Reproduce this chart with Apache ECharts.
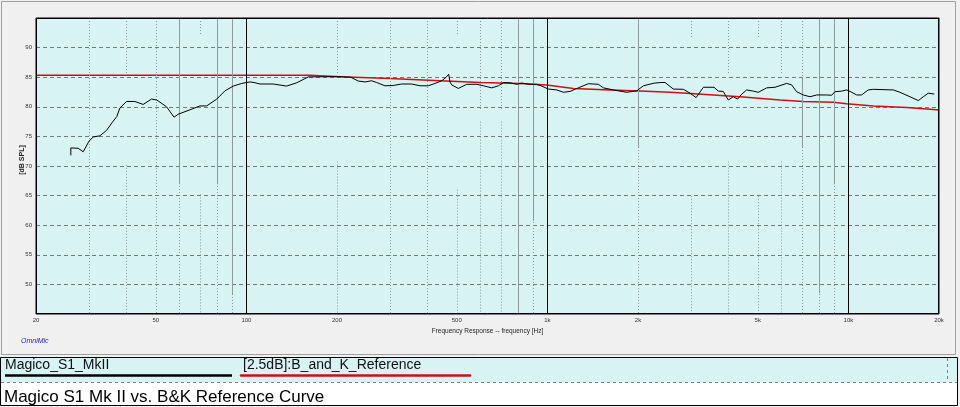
<!DOCTYPE html>
<html><head><meta charset="utf-8">
<script src="https://cdn.jsdelivr.net/npm/echarts@6/dist/echarts.min.js"></script>
<style>html,body{margin:0;padding:0;background:#f0f0f0}#c{width:960px;height:407px}</style>
</head><body><div id="c"></div><script>
// Magico S1 MkII measured response (Hz, dB SPL)
const magicoFreq = [26.1,26.1,27.6,28.7,30,31.0,32.6,34.3,35.7,37.1,38.0,40.0,42.6,45.4,48.4,50.4,54.3,57.5,59.4,65.0,70.1,73.8,79.7,84.9,90.5,96.5,102.8,106,111,122.8,136.1,146.9,160.6,204.6,222,235.5,248,260.7,271,288.5,307.6,328,354,377.5,402,423.5,445.6,460,470,474.6,481,505.8,539.5,582.5,612.6,653.5,687.5,714,751.6,791,821.7,875.4,921,957,1007,1074,1130,1189,1267,1368,1477,1535,1656,1834,1981,2084,2264,2382,2461,2620,2830,2978,3119,3298,3577,3697,3838,3990,4145,4285,4395,4592,4830,5022,5355,5704,6238,6480,6730,7080,7455,7848,8472,8800,9020,9500,9870,10260,10650,11060,11640,12100,14100,14830,16020,17070,17740,18420,19290];
const magicoDb = [71.8,73.05,73.0,72.4,74.2,74.9,75.1,76.0,77.25,78.35,79.8,80.9,80.9,80.4,81.3,81.15,80.0,78.25,78.75,79.5,80.15,80.15,81.3,82.7,83.5,83.95,84.2,84.1,83.85,83.85,83.5,84.05,85.05,85.1,85.0,84.35,84.2,84.4,84.1,83.55,83.6,83.85,83.85,83.55,83.55,83.95,84.4,84.95,85.5,84.2,83.7,83.1,83.8,83.8,83.55,83.2,83.55,84.1,84.05,83.8,84.0,83.8,83.8,83.5,83.0,82.85,82.45,82.6,83.2,83.9,83.8,83.2,82.85,82.45,82.7,83.55,84.0,84.1,84.1,83.0,82.95,82.3,81.55,83.3,83.3,82.65,82.6,81.15,81.7,81.3,82.0,82.85,82.65,82.45,83.2,83.3,83.95,83.7,82.55,82.0,81.7,82.0,82.0,81.95,82.55,82.65,82.85,82.45,82.0,82.0,82.85,82.95,82.85,82.45,81.7,81.05,81.7,82.3,82.15];
// B&K reference curve
const refFreq = [20,162.6,204.6,300,440,597,810,994,1220,1614,2032,2554,2900,4365,5930,7080,8910,9870,12100,15620,19640,20000];
const refDb = [85.35,85.35,85.07,84.8,84.4,84.1,83.95,83.7,83.1,82.85,82.65,82.45,82.3,81.7,81.15,80.9,80.75,80.5,80.15,79.9,79.5,79.45];
// axis ticks / grid frequencies
const xTickLabels = [20,50,100,200,500,1000,2000,5000,10000,20000];
const majorLines = [100,1000,10000];
const minorLines   = [30,40,50,60,70,80,90,200,300,400,500,600,700,800,900,2000,3000,4000,5000,6000,7000,8000,9000];
// gaps in the dotted minor lines (dB from, dB to), null = continuous
const minorGapTop    = [null,85.7,null,null,92.1,null,null,85.35,null,null,92.1,79.5,79.5,null,null,null,91.7,85.7,91.7,85.7,null,null,null];
const minorGapBottom = [null,70.2,null,null,65.2,null,null,70.75,null,null,66.0,77.5,77.5,null,null,null,64.9,70.75,64.9,70.75,null,null,null];
const greySegFreq = [60,80,90,800,900,2000,7000,8000,9000];
const greySegTop = [95,95,95,95,95,95,85.0,95,95];
const greySegBottom = [66.9,66.9,48.3,45,60.7,73.1,73.1,48.5,66.9];

const legendNames = ['Magico_S1_MkII','[2.5dB]:B_and_K_Reference'];
const chartTitle = 'Magico S1 Mk II vs. B&K Reference Curve';

const chart = echarts.init(document.getElementById('c'), null, {renderer:'canvas'});
const FONT = '"Liberation Sans", Arial, sans-serif';
const G = {l:36, t:18, r:939, b:314};

const minorSegs = [];
minorLines.forEach((f,i)=>{
  if (minorGapTop[i] == null) {
    minorSegs.push([{coord:[f,95]},{coord:[f,45]}]);
  } else {
    minorSegs.push([{coord:[f,95]},{coord:[f,minorGapTop[i]]}]);
    minorSegs.push([{coord:[f,minorGapBottom[i]]},{coord:[f,45]}]);
  }
});

const option = {
  backgroundColor:'#f0f0f0',
  animation:false,
  grid:{left:G.l, top:G.t, width:G.r-G.l, height:G.b-G.t, show:true, backgroundColor:'#d7f3f3', borderColor:'#000', borderWidth:1},
  xAxis:{
    type:'log', logBase:10, min:20, max:20000,
    name:'Frequency Response -- frequency [Hz]', nameLocation:'middle', nameGap:11,
    nameTextStyle:{fontSize:6.5, color:'#222', fontFamily:FONT},
    axisLine:{show:false}, axisTick:{show:false}, splitLine:{show:false}, minorSplitLine:{show:false},
    axisLabel:{customValues:xTickLabels, fontSize:6, color:'#333', fontFamily:FONT, margin:3,
      formatter:v=> v>=1000 ? (v/1000)+'k' : String(v)}
  },
  yAxis:{
    type:'value', min:45, max:95, interval:5,
    axisLine:{show:false}, axisTick:{show:false},
    splitLine:{show:true, lineStyle:{color:'#707a7a', type:[4,3], width:1}},
    axisLabel:{fontSize:6, color:'#333', fontFamily:FONT, margin:4,
      formatter:v=> (v===45||v===95) ? '' : String(v)}
  },
  series:[
    {type:'line', data:[], z:1, silent:true,
     markLine:{silent:true, symbol:'none', label:{show:false},
       lineStyle:{color:'#8a9696', type:[1,2], width:1},
       data:minorSegs}},
    {type:'line', data:[], z:2, silent:true,
     markLine:{silent:true, symbol:'none', label:{show:false},
       lineStyle:{color:'#8f9a9c', type:'solid', width:1},
       data:greySegFreq.map((f,i)=>[{coord:[f,greySegTop[i]]},{coord:[f,greySegBottom[i]]}])}},
    {type:'line', data:[], z:2, silent:true,
     markLine:{silent:true, symbol:'none', label:{show:false},
       lineStyle:{color:'#000', type:'solid', width:1},
       data:majorLines.map(f=>({xAxis:f}))}},
    {name:legendNames[1], type:'line', z:4, showSymbol:false, symbol:'none',
     lineStyle:{color:'#d01010', width:1.5},
     data:refFreq.map((f,i)=>[f,refDb[i]])},
    {name:legendNames[0], type:'line', z:5, showSymbol:false, symbol:'none',
     lineStyle:{color:'#000', width:1},
     data:magicoFreq.map((f,i)=>[f,magicoDb[i]])}
  ],
  graphic:[
    {type:'rect', shape:{x:1.5,y:1.5,width:954,height:353}, style:{fill:null, stroke:'#a0a0a0', lineWidth:1}, z:0, silent:true},
    {type:'rect', shape:{x:G.l+0.5,y:G.t+0.5,width:G.r-G.l-1,height:G.b-G.t-1}, style:{fill:null, stroke:'#000', lineWidth:1}, z:50, silent:true},
    {type:'text', x:22, y:160, rotation:Math.PI/2, style:{text:'[dB SPL]', font:'bold 7px '+FONT, fill:'#222', align:'center', verticalAlign:'middle'}, z:10},
    {type:'text', x:21, y:341.5, style:{text:'OmniMic', font:'italic 7px '+FONT, fill:'#2626c8', align:'left', verticalAlign:'middle'}, z:10},
    {type:'rect', shape:{x:0.5,y:357.5,width:957,height:48}, style:{fill:'#ffffff', stroke:'#000', lineWidth:1}, z:0, silent:true},
    {type:'rect', shape:{x:1,y:358,width:956,height:24.5}, style:{fill:'#d7f3f3'}, z:1, silent:true},
    {type:'line', shape:{x1:1,y1:382.5,x2:957,y2:382.5}, style:{stroke:'#808080', lineDash:[3,3], lineWidth:1}, z:2, silent:true},
    {type:'line', shape:{x1:947.5,y1:358,x2:947.5,y2:382}, style:{stroke:'#808080', lineDash:[3,3], lineWidth:1}, z:2, silent:true},
    {type:'text', x:5, y:365.5, style:{text:legendNames[0], font:'14px '+FONT, fill:'#111', align:'left', verticalAlign:'middle'}, z:4},
    {type:'line', shape:{x1:5,y1:375.5,x2:232,y2:375.5}, style:{stroke:'#000', lineWidth:2.5}, z:3, silent:true},
    {type:'text', x:243, y:365.5, style:{text:legendNames[1], font:'14px '+FONT, fill:'#111', align:'left', verticalAlign:'middle'}, z:4},
    {type:'line', shape:{x1:241,y1:375.5,x2:470,y2:375.5}, style:{stroke:'#d01010', lineWidth:2.5, lineCap:'round'}, z:3, silent:true},
    {type:'text', x:4, y:397, style:{text:chartTitle, font:'17px '+FONT, fill:'#000', align:'left', verticalAlign:'middle'}, z:3}
  ]
};
chart.setOption(option);
</script></body></html>
